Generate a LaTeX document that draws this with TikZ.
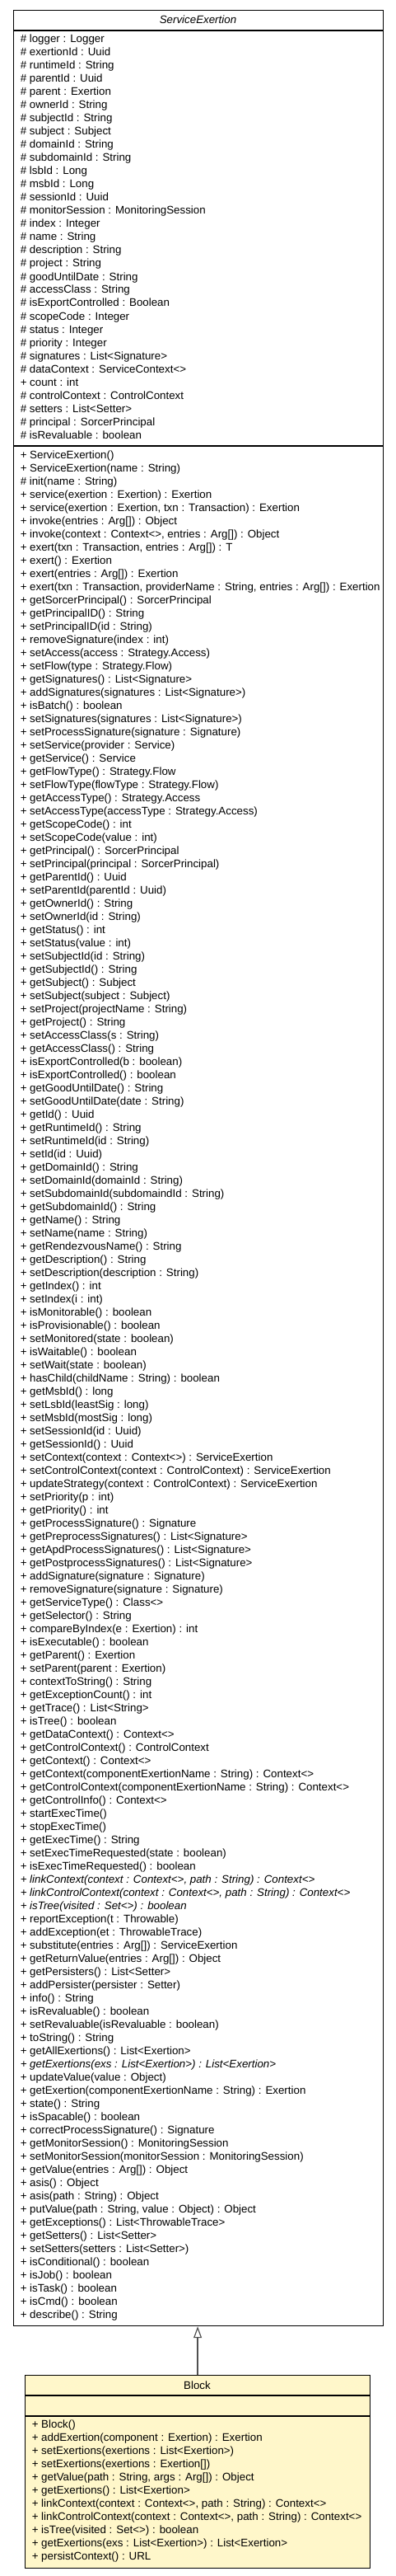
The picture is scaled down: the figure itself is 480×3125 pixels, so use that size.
\documentclass[tikz,border=0pt]{standalone}
\usepackage{fontspec}
\setmainfont{Liberation Sans}
\usetikzlibrary{arrows.meta}
\definecolor{blockfill}{RGB}{255,247,202}
\definecolor{edgegray}{RGB}{80,80,80}

\begin{document}
\begin{tikzpicture}[x=0.75pt, y=-0.75pt,
    every node/.style={font=\fontsize{10}{12}\selectfont},
    umlbox/.style={draw=black, line width=0.9pt, inner sep=0pt, anchor=north west},
    member/.style={anchor=base west, inner sep=0pt}]
    \useasboundingbox (0,0) rectangle (480,3125);
    % ServiceExertion
    \node[umlbox, fill=white, minimum width=336.75pt, minimum height=2106.75pt] (srv) at (16,12) {};
    \draw[line width=0.9pt] (srv.west |- 0,37) -- (srv.east |- 0,37);
    \draw[line width=0.9pt] (srv.west |- 0,541) -- (srv.east |- 0,541);
    \node[anchor=base, font=\fontsize{10}{12}\selectfont\itshape] (srvname) at (240.5,28.5) {ServiceExertion};
    \foreach \txt [count=\i] in {\# logger : Logger, \# exertionId : Uuid, \# runtimeId : String,
        \# parentId : Uuid, \# parent : Exertion, \# ownerId : String, \# subjectId : String,
        \# subject : Subject, \# domainId : String, \# subdomainId : String, \# lsbId : Long,
        \# msbId : Long, \# sessionId : Uuid, \# monitorSession : MonitoringSession,
        \# index : Integer, \# name : String, \# description : String, \# project : String,
        \# goodUntilDate : String, \# accessClass : String, \# isExportControlled : Boolean,
        \# scopeCode : Integer, \# status : Integer, \# priority : Integer,
        \# signatures : List<Signature>, \# dataContext : ServiceContext<>, + count : int,
        \# controlContext : ControlContext, \# setters : List<Setter>,
        \# principal : SorcerPrincipal, \# isRevaluable : boolean}
        \node[member] (attr\i) at (24.5,{52+16*(\i-1)}) {\txt};
    \foreach \txt [count=\i] in {+ ServiceExertion(),
        + ServiceExertion(name : String),
        \# init(name : String),
        + service(exertion : Exertion) : Exertion,
        {+ service(exertion : Exertion, txn : Transaction) : Exertion},
        + invoke(entries : Arg[]) : Object,
        {+ invoke(context : Context<>, entries : Arg[]) : Object},
        {+ exert(txn : Transaction, entries : Arg[]) : T},
        + exert() : Exertion,
        + exert(entries : Arg[]) : Exertion,
        {+ exert(txn : Transaction, providerName : String, entries : Arg[]) : Exertion},
        + getSorcerPrincipal() : SorcerPrincipal,
        + getPrincipalID() : String,
        + setPrincipalID(id : String),
        + removeSignature(index : int),
        + setAccess(access : Strategy.Access),
        + setFlow(type : Strategy.Flow),
        + getSignatures() : List<Signature>,
        + addSignatures(signatures : List<Signature>),
        + isBatch() : boolean,
        + setSignatures(signatures : List<Signature>),
        + setProcessSignature(signature : Signature),
        + setService(provider : Service),
        + getService() : Service,
        + getFlowType() : Strategy.Flow,
        + setFlowType(flowType : Strategy.Flow),
        + getAccessType() : Strategy.Access,
        + setAccessType(accessType : Strategy.Access),
        + getScopeCode() : int,
        + setScopeCode(value : int),
        + getPrincipal() : SorcerPrincipal,
        + setPrincipal(principal : SorcerPrincipal),
        + getParentId() : Uuid,
        + setParentId(parentId : Uuid),
        + getOwnerId() : String,
        + setOwnerId(id : String),
        + getStatus() : int,
        + setStatus(value : int),
        + setSubjectId(id : String),
        + getSubjectId() : String,
        + getSubject() : Subject,
        + setSubject(subject : Subject),
        + setProject(projectName : String),
        + getProject() : String,
        + setAccessClass(s : String),
        + getAccessClass() : String,
        + isExportControlled(b : boolean),
        + isExportControlled() : boolean,
        + getGoodUntilDate() : String,
        + setGoodUntilDate(date : String),
        + getId() : Uuid,
        + getRuntimeId() : String,
        + setRuntimeId(id : String),
        + setId(id : Uuid),
        + getDomainId() : String,
        + setDomainId(domainId : String),
        + setSubdomainId(subdomaindId : String),
        + getSubdomainId() : String,
        + getName() : String,
        + setName(name : String),
        + getRendezvousName() : String,
        + getDescription() : String,
        + setDescription(description : String),
        + getIndex() : int,
        + setIndex(i : int),
        + isMonitorable() : boolean,
        + isProvisionable() : boolean,
        + setMonitored(state : boolean),
        + isWaitable() : boolean,
        + setWait(state : boolean),
        + hasChild(childName : String) : boolean,
        + getMsbId() : long,
        + setLsbId(leastSig : long),
        + setMsbId(mostSig : long),
        + setSessionId(id : Uuid),
        + getSessionId() : Uuid,
        + setContext(context : Context<>) : ServiceExertion,
        + setControlContext(context : ControlContext) : ServiceExertion,
        + updateStrategy(context : ControlContext) : ServiceExertion,
        + setPriority(p : int),
        + getPriority() : int,
        + getProcessSignature() : Signature,
        + getPreprocessSignatures() : List<Signature>,
        + getApdProcessSignatures() : List<Signature>,
        + getPostprocessSignatures() : List<Signature>,
        + addSignature(signature : Signature),
        + removeSignature(signature : Signature),
        + getServiceType() : Class<>,
        + getSelector() : String,
        + compareByIndex(e : Exertion) : int,
        + isExecutable() : boolean,
        + getParent() : Exertion,
        + setParent(parent : Exertion),
        + contextToString() : String,
        + getExceptionCount() : int,
        + getTrace() : List<String>,
        + isTree() : boolean,
        + getDataContext() : Context<>,
        + getControlContext() : ControlContext,
        + getContext() : Context<>,
        + getContext(componentExertionName : String) : Context<>,
        + getControlContext(componentExertionName : String) : Context<>,
        + getControlInfo() : Context<>,
        + startExecTime(),
        + stopExecTime(),
        + getExecTime() : String,
        + setExecTimeRequested(state : boolean),
        + isExecTimeRequested() : boolean,
        \textit{+ linkContext(context : Context<>, path : String) : Context<>},
        \textit{+ linkControlContext(context : Context<>, path : String) : Context<>},
        \textit{+ isTree(visited : Set<>) : boolean},
        + reportException(t : Throwable),
        + addException(et : ThrowableTrace),
        + substitute(entries : Arg[]) : ServiceExertion,
        + getReturnValue(entries : Arg[]) : Object,
        + getPersisters() : List<Setter>,
        + addPersister(persister : Setter),
        + info() : String,
        + isRevaluable() : boolean,
        + setRevaluable(isRevaluable : boolean),
        + toString() : String,
        + getAllExertions() : List<Exertion>,
        \textit{+ getExertions(exs : List<Exertion>) : List<Exertion>},
        + updateValue(value : Object),
        + getExertion(componentExertionName : String) : Exertion,
        + state() : String,
        + isSpacable() : boolean,
        + correctProcessSignature() : Signature,
        + getMonitorSession() : MonitoringSession,
        + setMonitorSession(monitorSession : MonitoringSession),
        + getValue(entries : Arg[]) : Object,
        + asis() : Object,
        + asis(path : String) : Object,
        {+ putValue(path : String, value : Object) : Object},
        + getExceptions() : List<ThrowableTrace>,
        + getSetters() : List<Setter>,
        + setSetters(setters : List<Setter>),
        + isConditional() : boolean,
        + isJob() : boolean,
        + isTask() : boolean,
        + isCmd() : boolean,
        + describe() : String}
        \node[member] (op\i) at (24.5,{556+16*(\i-1)}) {\txt};
    % Block
    \node[umlbox, fill=blockfill, minimum width=314.25pt, minimum height=175.5pt] (blk) at (30,2881) {};
    \draw[line width=0.9pt] (blk.west |- 0,2906) -- (blk.east |- 0,2906);
    \draw[line width=0.9pt] (blk.west |- 0,2931) -- (blk.east |- 0,2931);
    \node[anchor=base] (blkname) at (239.5,2898) {Block};
    \foreach \txt [count=\i] in {+ Block(),
        + addExertion(component : Exertion) : Exertion,
        + setExertions(exertions : List<Exertion>),
        + setExertions(exertions : Exertion[]),
        {+ getValue(path : String, args : Arg[]) : Object},
        + getExertions() : List<Exertion>,
        {+ linkContext(context : Context<>, path : String) : Context<>},
        {+ linkControlContext(context : Context<>, path : String) : Context<>},
        + isTree(visited : Set<>) : boolean,
        + getExertions(exs : List<Exertion>) : List<Exertion>,
        + persistContext() : URL}
        \node[member] (blkop\i) at (38.5,{2945+16*(\i-1)}) {\txt};
    \draw[edgegray, line width=1.2pt, -{Triangle[open, length=10.5pt, width=7.5pt, line width=0.9pt]}] (blk.north) -- (blk.north |- srv.south);
\end{tikzpicture}
\end{document}
